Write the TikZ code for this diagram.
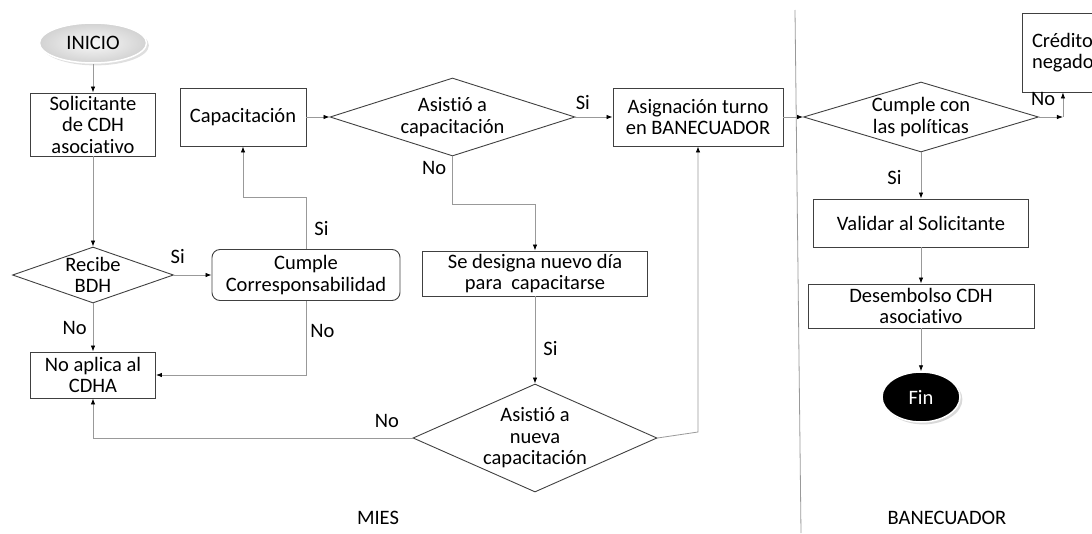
\documentclass[tikz,border=0pt]{standalone}
\usepackage{fontspec}
\setmainfont{Carlito}[Ligatures=NoCommon]
\usetikzlibrary{shapes.geometric,arrows.meta,shadows}

\begin{document}
\begin{tikzpicture}[x=1pt,y=-1pt,
        font=\fontsize{20.5}{21.5}\selectfont,
        box/.style={draw=black!75, line width=0.9pt, align=center, inner sep=1pt},
        dec/.style={diamond, draw=black!75, line width=0.9pt, inner sep=0pt},
        txt/.style={align=center, inner sep=0pt},
        conn/.style={draw=gray!80, line width=0.8pt, -{Latex[black,length=6pt,width=4.5pt]}},
        lbl/.style={inner sep=0pt}]
        \useasboundingbox (0,0) rectangle (1092,533);
        \draw[gray!80, line width=0.8pt] (795,10) -- (801,533);
        \node[ellipse, minimum width=107pt, minimum height=40pt, inner color=gray!5, outer color=gray!35, draw=white, line width=1.5pt, drop shadow={opacity=0.25}] (ini) at (93,43) {INICIO};
        \node[box, minimum width=125pt, minimum height=63pt] (sol) at (93,124.5) {Solicitante\\de CDH\\asociativo};
        \node[dec, minimum width=161pt, minimum height=56pt, label={[txt]center:Recibe\\BDH}] (rb) at (93,275) {};
        \node[box, minimum width=125pt, minimum height=46pt] (na) at (93,375) {No aplica al\\CDHA};
        \node[box, rounded corners=8pt, minimum width=188pt, minimum height=51pt] (cc) at (306,275) {Cumple\\Corresponsabilidad};
        \node[box, minimum width=126pt, minimum height=58pt] (cap) at (243,117) {Capacitación};
        \node[dec, minimum width=245pt, minimum height=78pt, label={[txt]center:Asistió a\\capacitación}] (ac) at (452.5,117) {};
        \node[box, minimum width=170pt, minimum height=58pt] (asg) at (698,117) {Asignación turno\\en BANECUADOR};
        \node[box, minimum width=225pt, minimum height=45pt] (sd) at (535,273.5) {Se designa nuevo día\\para~ capacitarse};
        \node[dec, minimum width=244pt, minimum height=108pt, label={[txt]center:Asistió a\\nueva\\capacitación}] (an) at (535,438) {};
        \node[dec, minimum width=235pt, minimum height=70pt, label={[txt]center:Cumple con\\las políticas}] (cp) at (921,117) {};
        \node[box, text width=80pt, inner xsep=10pt, align=left, minimum height=79pt] (cred) at (1072,52.5) {Crédito\\negado};
        \node[box, minimum width=215pt, minimum height=48pt] (val) at (921,223) {Validar al Solicitante};
        \node[box, minimum width=226pt, minimum height=44pt] (des) at (921,306) {Desembolso CDH\\asociativo};
        \node[ellipse, minimum width=78pt, minimum height=50pt, fill=black, draw=white, line width=1.5pt, text=white, drop shadow={opacity=0.3}] (fin) at (921,397) {Fin};
        \node[lbl] (mies) at (378,518) {MIES};
        \node[lbl] (bane) at (947,518) {BANECUADOR};
        \draw[conn] (ini) -- (sol);
        \draw[conn] (sol) -- (rb);
        \draw[conn] (rb) -- node[lbl, pos=0.1, above=11pt] {Si} (cc);
        \draw[conn] (rb) -- node[lbl, left=6pt] {No} (na);
        \draw[conn] (cc.north) -- node[lbl, pos=0.4, right=8pt] {Si} ++(0,-52) -| (cap.south);
        \draw[conn] (cc.south) |- node[lbl, pos=0.2, right=4pt] {No} (na.east);
        \draw[conn] (an.west) -| node[lbl, pos=0.04, above=10pt] {No} (na.south);
        \draw[conn] (cap) -- (ac);
        \draw[conn] (ac) -- node[lbl, pos=0.2, above=7pt] {Si} (asg);
        \draw[conn] (ac.south) -- node[lbl, pos=0.25, left=6pt] {No} ++(0,48) -| (sd.north);
        \draw[conn] (sd) -- node[lbl, pos=0.6, right=8pt] {Si} (an);
        \draw[conn] (an.east) -- ([yshift=6pt]an.east -| asg.south) -- (asg.south);
        \draw[conn] (asg) -- (cp);
        \path (cp.east) ++(24,0) coordinate (tn);
        \draw[conn] (cp.east) -- node[lbl, pos=0.17, above=11pt] {No} (tn);
        \draw[conn] (tn) -- (tn |- cred.south);
        \draw[conn] (cp) -- node[lbl, pos=0.55, left=19pt] {Si} (val);
        \draw[conn] (val) -- (des);
        \draw[conn] (des) -- (fin);
\end{tikzpicture}
\end{document}
